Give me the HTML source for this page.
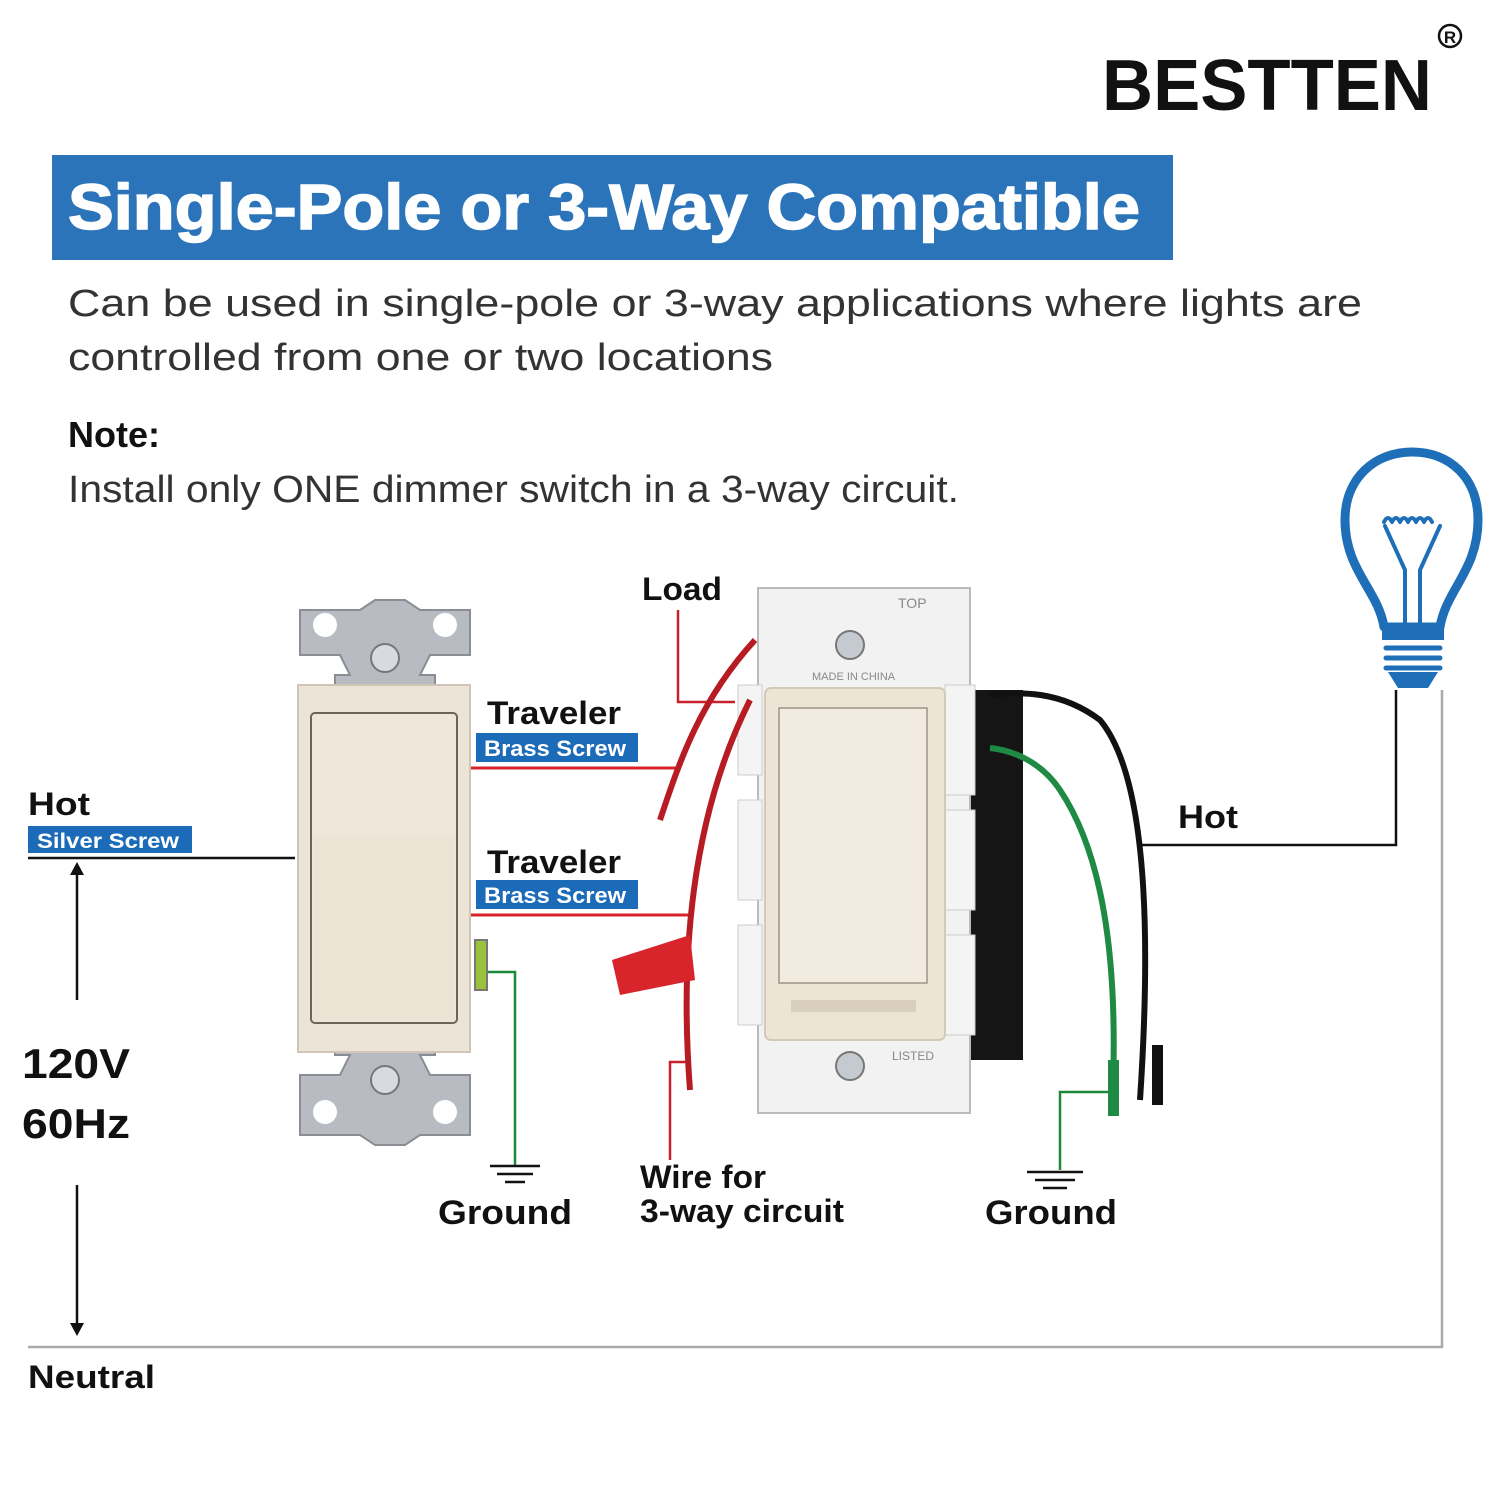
<!DOCTYPE html>
<html><head><meta charset="utf-8"><style>
html,body{margin:0;padding:0;background:#fff;}
svg{display:block;}
text{font-family:"Liberation Sans",Arial,sans-serif;}
</style></head><body>
<svg width="1500" height="1500" viewBox="0 0 1500 1500" xmlns="http://www.w3.org/2000/svg">
<rect width="1500" height="1500" fill="#fff"/>
<text x="1102" y="110" font-size="72" font-weight="bold" fill="#111" textLength="330" lengthAdjust="spacingAndGlyphs">BESTTEN</text>
<circle cx="1450" cy="36" r="11" fill="none" stroke="#111" stroke-width="2.5"/>
<text x="1450" y="43" font-size="17" font-weight="bold" text-anchor="middle" fill="#111">R</text>
<rect x="52" y="155" width="1121" height="105" fill="#2b74b9"/>
<text x="68" y="229" font-size="64" font-weight="bold" fill="#fff" stroke="#fff" stroke-width="1.5" textLength="1072" lengthAdjust="spacingAndGlyphs">Single-Pole or 3-Way Compatible</text>
<text x="68" y="316" font-size="38" fill="#333" textLength="1294" lengthAdjust="spacingAndGlyphs">Can be used in single-pole or 3-way applications where lights are</text>
<text x="68" y="370" font-size="38" fill="#333" textLength="705" lengthAdjust="spacingAndGlyphs">controlled from one or two locations</text>
<text x="68" y="447" font-size="36" font-weight="bold" fill="#111">Note:</text>
<text x="68" y="502" font-size="38" fill="#333" textLength="891" lengthAdjust="spacingAndGlyphs">Install only ONE dimmer switch in a 3-way circuit.</text>

<g fill="none" stroke="#1f6fb8" stroke-linecap="round" stroke-linejoin="round">
<path d="M1384 627 C1378 590 1345 570 1345 520 C1345 478 1375 452 1412 452 C1450 452 1478 478 1478 520 C1478 570 1446 590 1440 627 Z" stroke-width="9"/>
<path d="M1384 522 q4 -8 8 0 q4 -8 8 0 q4 -8 8 0 q4 -8 8 0 q4 -8 8 0 q4 -8 8 0 M1385 526 L1405 570 L1405 627 M1440 526 L1420 570 L1420 627" stroke-width="4"/>
<path d="M1386 648 H1440 M1386 658 H1440 M1386 668 H1440" stroke-width="5"/>
</g>
<rect x="1382" y="624" width="62" height="16" fill="#1f6fb8"/>
<path d="M1388 672 H1438 L1428 688 H1398 Z" fill="#1f6fb8"/>

<g fill="none" stroke-width="2.5">
<path d="M28 858 H295" stroke="#111"/>
<path d="M77 1000 V868" stroke="#111"/>
<path d="M77 1185 V1330" stroke="#111"/>
<path d="M28 1347 H1442 V690" stroke="#aaa"/>
<path d="M1140 845 H1396 V690" stroke="#111"/>
<path d="M470 768 H680" stroke="#d9232a" stroke-width="3"/>
<path d="M470 915 H690" stroke="#d9232a" stroke-width="3"/>
<path d="M678 610 V702 H735" stroke="#c8202a"/>
<path d="M670 1160 V1062 H690" stroke="#c8202a"/>
<path d="M485 972 H515 V1165" stroke="#1d8a3a"/>
<path d="M1060 1170 V1092 H1110" stroke="#1d8a3a"/>
</g>
<path d="M70 875 L77 862 L84 875 Z M70 1323 L77 1336 L84 1323 Z" fill="#111"/>
<g stroke="#111" stroke-width="2.5">
<path d="M490 1166 H540 M497 1174 H533 M505 1182 H525"/>
<path d="M1027 1172 H1083 M1035 1180 H1075 M1043 1188 H1067"/>
</g>

<path d="M300 610 h60 l15 -10 h30 l15 10 h50 v45 h-40 l-10 20 h15 v380 h-15 l10 20 h40 v60 h-50 l-15 10 h-30 l-15 -10 h-60 v-60 h40 l10 -20 h-15 v-380 h15 l-10 -20 h-40 z" fill="#b8bcc2" stroke="#8a8e94" stroke-width="2"/>
<circle cx="325" cy="625" r="12" fill="#fff"/><circle cx="445" cy="625" r="12" fill="#fff"/>
<circle cx="325" cy="1112" r="12" fill="#fff"/><circle cx="445" cy="1112" r="12" fill="#fff"/>
<circle cx="385" cy="658" r="14" fill="#d7dade" stroke="#777" stroke-width="2"/>
<circle cx="385" cy="1080" r="14" fill="#d7dade" stroke="#777" stroke-width="2"/>
<rect x="298" y="685" width="172" height="367" fill="#ece4d6" stroke="#cfc6b5" stroke-width="2"/>
<rect x="311" y="713" width="146" height="310" rx="4" fill="#efe7da" stroke="#6b6458" stroke-width="2"/>
<rect x="313" y="835" width="142" height="186" fill="#ebe3d4"/>
<rect x="475" y="940" width="12" height="50" fill="#9bc23c" stroke="#777" stroke-width="2"/>

<rect x="965" y="690" width="58" height="370" fill="#151515"/>
<path d="M1140 1100 C1150 950 1150 780 1100 720 C1060 690 1020 692 990 695" fill="none" stroke="#111" stroke-width="6"/>
<path d="M1112 1110 C1120 950 1100 850 1060 790 C1040 760 1010 750 990 748" fill="none" stroke="#1e8a44" stroke-width="6"/>
<rect x="1152" y="1045" width="11" height="60" fill="#111"/>
<rect x="1108" y="1060" width="11" height="56" fill="#1e8a44"/>
<rect x="758" y="588" width="212" height="525" fill="#f2f2f2" stroke="#bbb" stroke-width="2"/>
<rect x="738" y="685" width="24" height="90" fill="#f4f4f4" stroke="#ccc"/>
<rect x="738" y="800" width="24" height="100" fill="#f4f4f4" stroke="#ccc"/>
<rect x="738" y="925" width="24" height="100" fill="#f4f4f4" stroke="#ccc"/>
<rect x="945" y="685" width="30" height="110" fill="#f4f4f4" stroke="#ccc"/>
<rect x="945" y="810" width="30" height="100" fill="#f4f4f4" stroke="#ccc"/>
<rect x="945" y="935" width="30" height="100" fill="#f4f4f4" stroke="#ccc"/>
<circle cx="850" cy="645" r="14" fill="#c5cad0" stroke="#777" stroke-width="2"/>
<circle cx="850" cy="1066" r="14" fill="#c5cad0" stroke="#777" stroke-width="2"/>
<text x="898" y="608" font-size="14" fill="#888">TOP</text>
<text x="812" y="680" font-size="11" fill="#888">MADE IN CHINA</text>
<text x="892" y="1060" font-size="12" fill="#888">LISTED</text>
<rect x="765" y="688" width="180" height="352" rx="6" fill="#ece4d4" stroke="#d2c9b8" stroke-width="2"/>
<rect x="779" y="708" width="148" height="275" fill="#f1ebe0" stroke="#9c9385" stroke-width="1.5"/>
<rect x="791" y="1000" width="125" height="12" fill="#d8cfbe"/>
<path d="M660 820 C680 760 700 700 755 640" fill="none" stroke="#b71c24" stroke-width="6"/>
<path d="M690 1090 C680 960 690 820 750 700" fill="none" stroke="#b71c24" stroke-width="6"/>
<path d="M612 960 L690 935 L695 980 L620 995 Z" fill="#d8252c"/>

<text x="487" y="724" font-size="32" font-weight="bold" fill="#111" textLength="134" lengthAdjust="spacingAndGlyphs">Traveler</text>
<rect x="476" y="733" width="162" height="29" fill="#1c6bb8"/>
<text x="484" y="756" font-size="22" font-weight="bold" fill="#fff" textLength="142" lengthAdjust="spacingAndGlyphs">Brass Screw</text>
<text x="487" y="873" font-size="32" font-weight="bold" fill="#111" textLength="134" lengthAdjust="spacingAndGlyphs">Traveler</text>
<rect x="476" y="880" width="162" height="29" fill="#1c6bb8"/>
<text x="484" y="903" font-size="22" font-weight="bold" fill="#fff" textLength="142" lengthAdjust="spacingAndGlyphs">Brass Screw</text>
<text x="28" y="815" font-size="32" font-weight="bold" fill="#111" textLength="62" lengthAdjust="spacingAndGlyphs">Hot</text>
<rect x="28" y="826" width="164" height="27" fill="#1c6bb8"/>
<text x="37" y="848" font-size="21" font-weight="bold" fill="#fff" textLength="142" lengthAdjust="spacingAndGlyphs">Silver Screw</text>
<text x="22" y="1078" font-size="42" font-weight="bold" fill="#111" textLength="108" lengthAdjust="spacingAndGlyphs">120V</text>
<text x="22" y="1138" font-size="42" font-weight="bold" fill="#111" textLength="108" lengthAdjust="spacingAndGlyphs">60Hz</text>
<text x="642" y="600" font-size="32" font-weight="bold" fill="#111" textLength="80" lengthAdjust="spacingAndGlyphs">Load</text>
<text x="438" y="1224" font-size="34" font-weight="bold" fill="#111" textLength="134" lengthAdjust="spacingAndGlyphs">Ground</text>
<text x="640" y="1188" font-size="32" font-weight="bold" fill="#111" textLength="126" lengthAdjust="spacingAndGlyphs">Wire for</text>
<text x="640" y="1222" font-size="32" font-weight="bold" fill="#111" textLength="204" lengthAdjust="spacingAndGlyphs">3-way circuit</text>
<text x="985" y="1224" font-size="34" font-weight="bold" fill="#111" textLength="132" lengthAdjust="spacingAndGlyphs">Ground</text>
<text x="1178" y="828" font-size="32" font-weight="bold" fill="#111" textLength="60" lengthAdjust="spacingAndGlyphs">Hot</text>
<text x="28" y="1388" font-size="32" font-weight="bold" fill="#111" textLength="127" lengthAdjust="spacingAndGlyphs">Neutral</text>
</svg>
</body></html>
